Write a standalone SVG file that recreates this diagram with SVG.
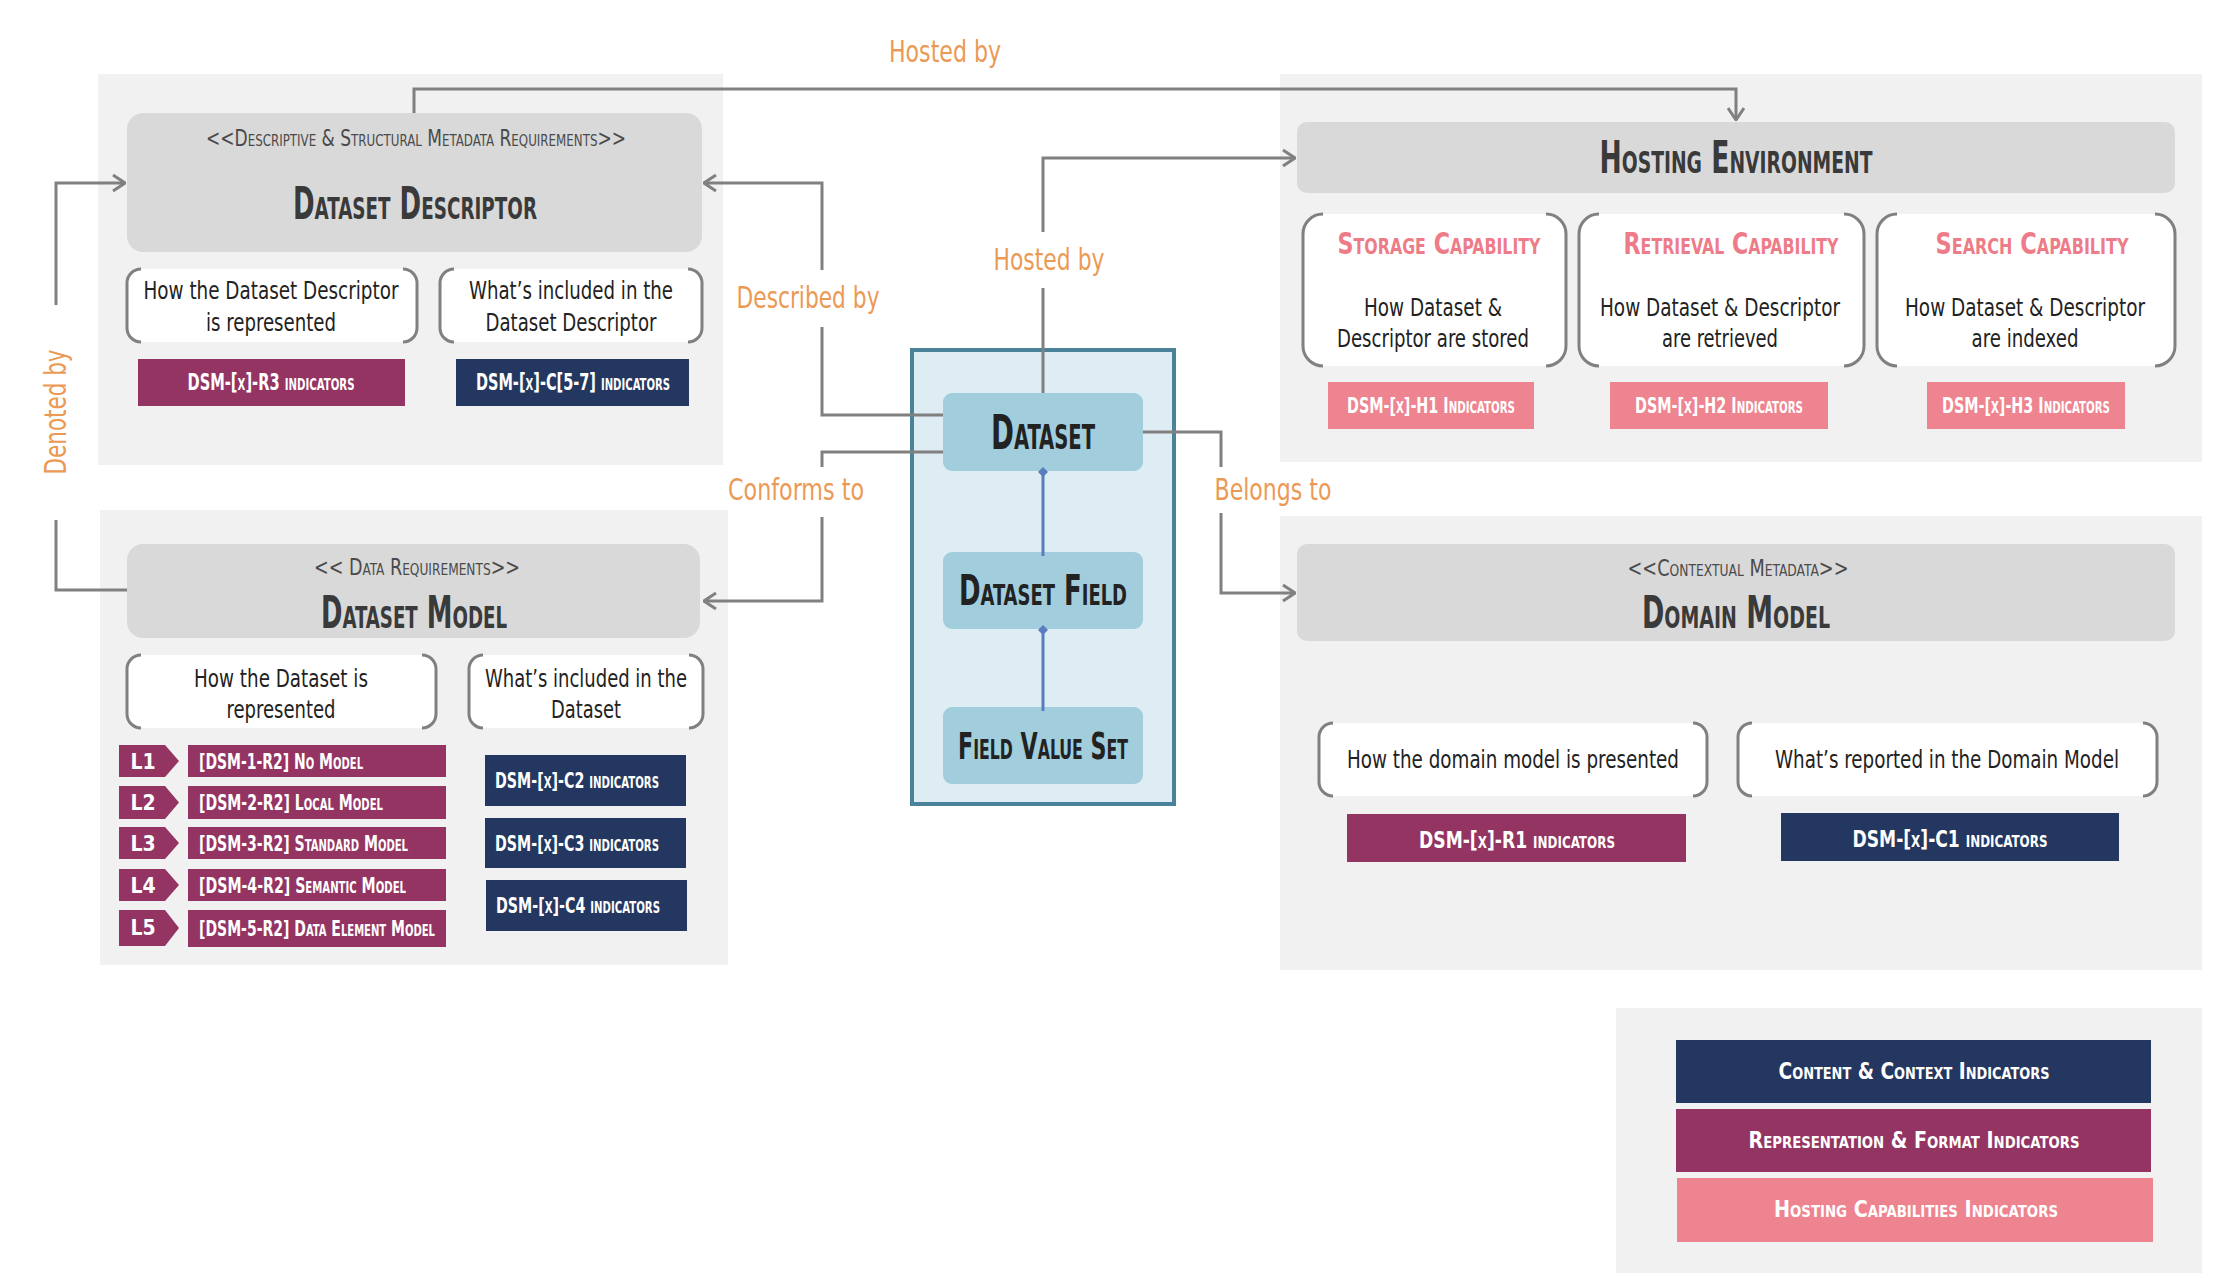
<svg xmlns="http://www.w3.org/2000/svg" width="2216" height="1278" viewBox="0 0 2216 1278">
<defs>
<marker id="arr" viewBox="0 0 14 18" refX="13" refY="9" markerWidth="14" markerHeight="18" markerUnits="userSpaceOnUse" orient="auto">
<path d="M1,1 L13,9 L1,17" fill="none" stroke="#808080" stroke-width="3"/>
</marker>
<marker id="dia" viewBox="0 0 10 10" refX="5" refY="5" markerWidth="10" markerHeight="10" markerUnits="userSpaceOnUse" orient="auto">
<path d="M5,0 L10,5 L5,10 L0,5 Z" fill="#5A7DC0"/>
</marker>
</defs>
<style>
text{font-family:"Liberation Sans Narrow","DejaVu Sans Condensed","Open Sans",sans-serif}
.sc{font-variant:small-caps}
.panel{fill:#F1F1F1}
.hdr{fill:#D9D9D9}
.title{font-size:44px;fill:#3A3A3A;text-anchor:middle;font-weight:bold}
.stereo{font-size:23px;fill:#4A4A4A;text-anchor:middle}
.body{font-size:25px;fill:#222;text-anchor:middle}
.ind{font-size:23px;fill:#fff;text-anchor:middle;font-weight:bold}
.lvl{font-size:21px;fill:#fff;font-weight:bold}
.cap{font-size:31px;fill:#EE7C88;text-anchor:middle;font-weight:bold}
.lbl{font-size:30px;fill:#EB9A55;text-anchor:middle}
.mar{fill:#943462}.nav{fill:#243760}.pink{fill:#EE848F}
.wbox{fill:#fff}
.br{fill:none;stroke:#808080;stroke-width:3}
.conn{fill:none;stroke:#808080;stroke-width:3}
.blue{fill:none;stroke:#5A7DC0;stroke-width:3}
.inner{fill:#A1CDDC}
.ctitle{fill:#222;font-weight:bold;text-anchor:middle}
</style>

<!-- Dataset Descriptor -->
<g id="dataset-descriptor">
<rect class="panel" x="98" y="74" width="625" height="391"/>
<rect class="hdr" x="127" y="113" width="575" height="139" rx="16"/>
<text class="stereo sc" x="416" y="146" textLength="420" lengthAdjust="spacingAndGlyphs">&lt;&lt;Descriptive &amp; Structural Metadata Requirements&gt;&gt;</text>
<text class="title sc" x="415" y="219" textLength="244" lengthAdjust="spacingAndGlyphs">Dataset Descriptor</text>
<rect class="wbox" x="127" y="269" width="290" height="73" rx="14"/>
<path class="br" d="M141,269 A14,14 0 0 0 127,283 V328 A14,14 0 0 0 141,342 M403,269 A14,14 0 0 1 417,283 V328 A14,14 0 0 1 403,342"/>
<text class="body" x="271" y="299" textLength="255" lengthAdjust="spacingAndGlyphs">How the Dataset Descriptor</text>
<text class="body" x="271" y="331" textLength="130" lengthAdjust="spacingAndGlyphs">is represented</text>
<rect class="wbox" x="440" y="269" width="262" height="73" rx="14"/>
<path class="br" d="M454,269 A14,14 0 0 0 440,283 V328 A14,14 0 0 0 454,342 M688,269 A14,14 0 0 1 702,283 V328 A14,14 0 0 1 688,342"/>
<text class="body" x="571" y="299" textLength="204" lengthAdjust="spacingAndGlyphs">What’s included in the</text>
<text class="body" x="571" y="331" textLength="171" lengthAdjust="spacingAndGlyphs">Dataset Descriptor</text>
<rect class="mar" x="138" y="359" width="267" height="47"/>
<text class="ind sc" x="271" y="390" textLength="167" lengthAdjust="spacingAndGlyphs">DSM-[x]-R3 indicators</text>
<rect class="nav" x="456" y="359" width="233" height="47"/>
<text class="ind sc" x="573" y="390" textLength="194" lengthAdjust="spacingAndGlyphs">DSM-[x]-C[5-7] indicators</text>
</g>

<!-- Dataset Model -->
<g id="dataset-model">
<rect class="panel" x="100" y="510" width="628" height="455"/>
<rect class="hdr" x="127" y="544" width="573" height="94" rx="16"/>
<text class="stereo sc" x="417" y="575" textLength="206" lengthAdjust="spacingAndGlyphs">&lt;&lt; Data Requirements&gt;&gt;</text>
<text class="title sc" x="414" y="628" textLength="186" lengthAdjust="spacingAndGlyphs">Dataset Model</text>
<rect class="wbox" x="127" y="655" width="309" height="73" rx="14"/>
<path class="br" d="M141,655 A14,14 0 0 0 127,669 V714 A14,14 0 0 0 141,728 M422,655 A14,14 0 0 1 436,669 V714 A14,14 0 0 1 422,728"/>
<text class="body" x="281" y="687" textLength="174" lengthAdjust="spacingAndGlyphs">How the Dataset is</text>
<text class="body" x="281" y="718" textLength="109" lengthAdjust="spacingAndGlyphs">represented</text>
<rect class="wbox" x="469" y="655" width="234" height="73" rx="14"/>
<path class="br" d="M483,655 A14,14 0 0 0 469,669 V714 A14,14 0 0 0 483,728 M689,655 A14,14 0 0 1 703,669 V714 A14,14 0 0 1 689,728"/>
<text class="body" x="586" y="687" textLength="202" lengthAdjust="spacingAndGlyphs">What’s included in the</text>
<text class="body" x="586" y="718" textLength="70" lengthAdjust="spacingAndGlyphs">Dataset</text>

<polygon class="mar" points="119,745 165,745 179,761 165,777 119,777"/>
<text class="lvl" x="143" y="769" text-anchor="middle">L1</text>
<rect class="mar" x="188" y="745" width="258" height="32"/>
<text class="lvl sc" x="199" y="769" textLength="164" lengthAdjust="spacingAndGlyphs">[DSM-1-R2] No Model</text>

<polygon class="mar" points="119,786 165,786 179,802.5 165,819 119,819"/>
<text class="lvl" x="143" y="810" text-anchor="middle">L2</text>
<rect class="mar" x="188" y="786" width="258" height="33"/>
<text class="lvl sc" x="199" y="810" textLength="184" lengthAdjust="spacingAndGlyphs">[DSM-2-R2] Local Model</text>

<polygon class="mar" points="119,827 165,827 179,843 165,859 119,859"/>
<text class="lvl" x="143" y="851" text-anchor="middle">L3</text>
<rect class="mar" x="188" y="827" width="258" height="32"/>
<text class="lvl sc" x="199" y="851" textLength="209" lengthAdjust="spacingAndGlyphs">[DSM-3-R2] Standard Model</text>

<polygon class="mar" points="119,869 165,869 179,885 165,901 119,901"/>
<text class="lvl" x="143" y="893" text-anchor="middle">L4</text>
<rect class="mar" x="188" y="869" width="258" height="32"/>
<text class="lvl sc" x="199" y="893" textLength="207" lengthAdjust="spacingAndGlyphs">[DSM-4-R2] Semantic Model</text>

<polygon class="mar" points="119,910 165,910 179,928 165,946 119,946"/>
<text class="lvl" x="143" y="935" text-anchor="middle">L5</text>
<rect class="mar" x="188" y="910" width="258" height="37"/>
<text class="lvl sc" x="199" y="936" textLength="236" lengthAdjust="spacingAndGlyphs">[DSM-5-R2] Data Element Model</text>

<rect class="nav" x="485" y="755" width="201" height="51"/>
<text class="lvl sc" x="495" y="788" textLength="164" lengthAdjust="spacingAndGlyphs">DSM-[x]-C2 indicators</text>
<rect class="nav" x="485" y="818" width="201" height="50"/>
<text class="lvl sc" x="495" y="851" textLength="164" lengthAdjust="spacingAndGlyphs">DSM-[x]-C3 indicators</text>
<rect class="nav" x="486" y="880" width="201" height="51"/>
<text class="lvl sc" x="496" y="913" textLength="164" lengthAdjust="spacingAndGlyphs">DSM-[x]-C4 indicators</text>
</g>

<!-- Central container -->
<g id="dataset-container">
<rect x="912" y="350" width="262" height="454" fill="#DEEDF4" stroke="#4A8299" stroke-width="4"/>
</g>
<g id="dataset">
<rect class="inner" x="943" y="393" width="200" height="78" rx="9"/>
<text class="ctitle sc" x="1043" y="449" font-size="48" textLength="104" lengthAdjust="spacingAndGlyphs">Dataset</text>
</g>
<g id="dataset-field">
<rect class="inner" x="943" y="552" width="200" height="77" rx="9"/>
<text class="ctitle sc" x="1043" y="605" font-size="42" textLength="168" lengthAdjust="spacingAndGlyphs">Dataset Field</text>
</g>
<g id="field-value-set">
<rect class="inner" x="943" y="707" width="200" height="77" rx="9"/>
<text class="ctitle sc" x="1043" y="759" font-size="38" textLength="170" lengthAdjust="spacingAndGlyphs">Field Value Set</text>
</g>

<!-- Hosting Environment -->
<g id="hosting-environment">
<rect class="panel" x="1280" y="74" width="922" height="388"/>
<rect class="hdr" x="1297" y="122" width="878" height="71" rx="10"/>
<text class="title sc" x="1736" y="173" textLength="273" lengthAdjust="spacingAndGlyphs">Hosting Environment</text>

<rect class="wbox" x="1303" y="214" width="263" height="152" rx="20"/>
<path class="br" d="M1323,214 A20,20 0 0 0 1303,234 V346 A20,20 0 0 0 1323,366 M1546,214 A20,20 0 0 1 1566,234 V346 A20,20 0 0 1 1546,366"/>
<text class="cap sc" x="1439" y="254" textLength="203" lengthAdjust="spacingAndGlyphs">Storage Capability</text>
<text class="body" x="1433" y="316" textLength="138" lengthAdjust="spacingAndGlyphs">How Dataset &amp;</text>
<text class="body" x="1433" y="347" textLength="192" lengthAdjust="spacingAndGlyphs">Descriptor are stored</text>

<rect class="wbox" x="1579" y="214" width="285" height="152" rx="20"/>
<path class="br" d="M1599,214 A20,20 0 0 0 1579,234 V346 A20,20 0 0 0 1599,366 M1844,214 A20,20 0 0 1 1864,234 V346 A20,20 0 0 1 1844,366"/>
<text class="cap sc" x="1731" y="254" textLength="215" lengthAdjust="spacingAndGlyphs">Retrieval Capability</text>
<text class="body" x="1720" y="316" textLength="240" lengthAdjust="spacingAndGlyphs">How Dataset &amp; Descriptor</text>
<text class="body" x="1720" y="347" textLength="116" lengthAdjust="spacingAndGlyphs">are retrieved</text>

<rect class="wbox" x="1877" y="214" width="298" height="152" rx="20"/>
<path class="br" d="M1897,214 A20,20 0 0 0 1877,234 V346 A20,20 0 0 0 1897,366 M2155,214 A20,20 0 0 1 2175,234 V346 A20,20 0 0 1 2155,366"/>
<text class="cap sc" x="2032" y="254" textLength="193" lengthAdjust="spacingAndGlyphs">Search Capability</text>
<text class="body" x="2025" y="316" textLength="240" lengthAdjust="spacingAndGlyphs">How Dataset &amp; Descriptor</text>
<text class="body" x="2025" y="347" textLength="107" lengthAdjust="spacingAndGlyphs">are indexed</text>

<rect class="pink" x="1328" y="382" width="206" height="47"/>
<text class="lvl sc" x="1431" y="413" text-anchor="middle" textLength="168" lengthAdjust="spacingAndGlyphs">DSM-[x]-H1 Indicators</text>
<rect class="pink" x="1610" y="382" width="218" height="47"/>
<text class="lvl sc" x="1719" y="413" text-anchor="middle" textLength="168" lengthAdjust="spacingAndGlyphs">DSM-[x]-H2 Indicators</text>
<rect class="pink" x="1927" y="382" width="198" height="47"/>
<text class="lvl sc" x="2026" y="413" text-anchor="middle" textLength="168" lengthAdjust="spacingAndGlyphs">DSM-[x]-H3 Indicators</text>
</g>

<!-- Domain Model -->
<g id="domain-model">
<rect class="panel" x="1280" y="516" width="922" height="454"/>
<rect class="hdr" x="1297" y="544" width="878" height="97" rx="10"/>
<text class="stereo sc" x="1738" y="576" textLength="221" lengthAdjust="spacingAndGlyphs">&lt;&lt;Contextual Metadata&gt;&gt;</text>
<text class="title sc" x="1736" y="628" textLength="188" lengthAdjust="spacingAndGlyphs">Domain Model</text>
<rect class="wbox" x="1319" y="723" width="388" height="73" rx="14"/>
<path class="br" d="M1333,723 A14,14 0 0 0 1319,737 V782 A14,14 0 0 0 1333,796 M1693,723 A14,14 0 0 1 1707,737 V782 A14,14 0 0 1 1693,796"/>
<text class="body" x="1513" y="768" textLength="332" lengthAdjust="spacingAndGlyphs">How the domain model is presented</text>
<rect class="wbox" x="1738" y="723" width="419" height="73" rx="14"/>
<path class="br" d="M1752,723 A14,14 0 0 0 1738,737 V782 A14,14 0 0 0 1752,796 M2143,723 A14,14 0 0 1 2157,737 V782 A14,14 0 0 1 2143,796"/>
<text class="body" x="1947" y="768" textLength="344" lengthAdjust="spacingAndGlyphs">What’s reported in the Domain Model</text>
<rect class="mar" x="1347" y="814" width="339" height="48"/>
<text class="ind sc" x="1517" y="848" font-size="26" textLength="196" lengthAdjust="spacingAndGlyphs">DSM-[x]-R1 indicators</text>
<rect class="nav" x="1781" y="813" width="338" height="48"/>
<text class="ind sc" x="1950" y="847" font-size="26" textLength="195" lengthAdjust="spacingAndGlyphs">DSM-[x]-C1 indicators</text>
</g>

<!-- Legend -->
<g id="legend">
<rect class="panel" x="1616" y="1008" width="586" height="265"/>
<rect class="nav" x="1676" y="1040" width="475" height="63"/>
<text class="ind sc" x="1914" y="1079" font-size="26" textLength="271" lengthAdjust="spacingAndGlyphs">Content &amp; Context Indicators</text>
<rect class="mar" x="1676" y="1109" width="475" height="63"/>
<text class="ind sc" x="1914" y="1148" font-size="26" textLength="331" lengthAdjust="spacingAndGlyphs">Representation &amp; Format Indicators</text>
<rect class="pink" x="1677" y="1178" width="476" height="64"/>
<text class="ind sc" x="1916" y="1217" font-size="26" textLength="284" lengthAdjust="spacingAndGlyphs">Hosting Capabilities Indicators</text>
</g>

<!-- Connectors -->
<g id="connectors">
<path class="conn" d="M414,113 V89 H1736 V120" marker-end="url(#arr)"/>
<path class="conn" d="M1043,393 V288 M1043,232 V158 H1295" marker-end="url(#arr)"/>
<path class="conn" d="M943,415 H822 V327 M822,270 V183 H704" marker-end="url(#arr)"/>
<path class="conn" d="M943,452 H822 V467 M822,517 V601 H704" marker-end="url(#arr)"/>
<path class="conn" d="M1143,432 H1221 V467 M1221,513 V593 H1295" marker-end="url(#arr)"/>
<path class="conn" d="M127,590 H56 V520 M56,305 V183 H125" marker-end="url(#arr)"/>
<path class="blue" d="M1043,556 V472" marker-end="url(#dia)"/>
<path class="blue" d="M1043,711 V630" marker-end="url(#dia)"/>
<text class="lbl" x="945" y="62" textLength="112" lengthAdjust="spacingAndGlyphs">Hosted by</text>
<text class="lbl" x="1049" y="270" textLength="111" lengthAdjust="spacingAndGlyphs">Hosted by</text>
<text class="lbl" x="808" y="308" textLength="143" lengthAdjust="spacingAndGlyphs">Described by</text>
<text class="lbl" x="796" y="500" textLength="136" lengthAdjust="spacingAndGlyphs">Conforms to</text>
<text class="lbl" x="1273" y="500" textLength="117" lengthAdjust="spacingAndGlyphs">Belongs to</text>
<text class="lbl" transform="translate(66,412) rotate(-90)" x="0" y="0" textLength="125" lengthAdjust="spacingAndGlyphs">Denoted by</text>
</g>
</svg>
